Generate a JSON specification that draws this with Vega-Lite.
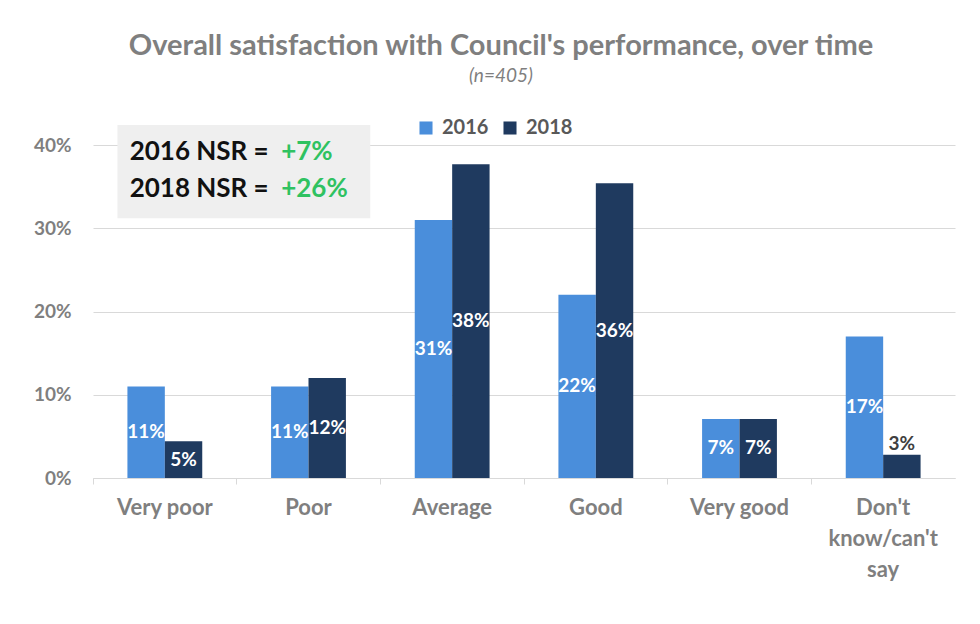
{
  "$schema": "https://vega.github.io/schema/vega-lite/v6.json",
  "width": 862,
  "height": 333,
  "autosize": {"type": "none"},
  "padding": {"left": 93, "top": 145, "right": 25, "bottom": 146},
  "background": "white",
  "title": {
    "text": "Overall satisfaction with Council's performance, over time",
    "subtitle": "(n=405)",
    "font": "Lato",
    "fontSize": 29,
    "fontWeight": "bold",
    "color": "#7f7f7f",
    "subtitleFont": "Lato",
    "subtitleFontSize": 19,
    "subtitleFontStyle": "italic",
    "subtitleColor": "#7f7f7f",
    "subtitlePadding": 6,
    "anchor": "middle",
    "dx": -23,
    "offset": 32
  },
  "config": {"view": {"stroke": null}, "font": "Lato"},
  "data": {
    "values": [
      {"category": "Very poor", "year": "2016", "value": 11.0, "label": "11%"},
      {"category": "Very poor", "year": "2018", "value": 4.4, "label": "5%"},
      {"category": "Poor", "year": "2016", "value": 11.0, "label": "11%"},
      {"category": "Poor", "year": "2018", "value": 12.0, "label": "12%"},
      {"category": "Average", "year": "2016", "value": 31.0, "label": "31%"},
      {"category": "Average", "year": "2018", "value": 37.7, "label": "38%"},
      {"category": "Good", "year": "2016", "value": 22.0, "label": "22%"},
      {"category": "Good", "year": "2018", "value": 35.4, "label": "36%"},
      {"category": "Very good", "year": "2016", "value": 7.1, "label": "7%"},
      {"category": "Very good", "year": "2018", "value": 7.1, "label": "7%"},
      {"category": "Don't know/can't say", "year": "2016", "value": 17.0, "label": "17%"},
      {"category": "Don't know/can't say", "year": "2018", "value": 2.8, "label": "3%"}
    ]
  },
  "layer": [
    {
      "mark": {"type": "bar"},
      "encoding": {
        "x": {
          "field": "category",
          "type": "nominal",
          "sort": ["Very poor", "Poor", "Average", "Good", "Very good", "Don't know/can't say"],
          "scale": {"paddingInner": 0, "paddingOuter": 0},
          "axis": {
            "title": null,
            "labelAngle": 0,
            "labelColor": "#7f7f7f",
            "labelFontSize": 22,
            "labelFontWeight": "bold",
            "labelPadding": 13,
            "labelLineHeight": 31,
            "bandPosition": 0,
            "domainColor": "#d9d9d9",
            "tickColor": "#d9d9d9",
            "tickSize": 6,
            "labelExpr": "indexof(datum.value, 'know') >= 0 ? [\"Don't\", \"know/can't\", \"say\"] : datum.value"
          }
        },
        "xOffset": {
          "field": "year",
          "type": "nominal",
          "scale": {"paddingOuter": 0.92, "paddingInner": 0}
        },
        "y": {
          "field": "value",
          "type": "quantitative",
          "scale": {"domain": [0, 40]},
          "axis": {
            "title": null,
            "values": [0, 10, 20, 30, 40],
            "labelExpr": "datum.value + '%'",
            "domain": false,
            "ticks": false,
            "grid": true,
            "gridColor": "#d9d9d9",
            "labelColor": "#7f7f7f",
            "labelFontSize": 19,
            "labelFontWeight": "bold",
            "labelPadding": 22
          }
        },
        "color": {
          "field": "year",
          "type": "nominal",
          "scale": {"domain": ["2016", "2018"], "range": ["#4a8edb", "#1f3a5f"]},
          "legend": {
            "title": null,
            "orient": "none",
            "legendX": 323,
            "legendY": -27,
            "direction": "horizontal",
            "symbolType": "square",
            "symbolSize": 170,
            "symbolStrokeWidth": 0,
            "labelFontSize": 20,
            "labelFontWeight": "bold",
            "labelColor": "#595959",
            "columnPadding": 11,
            "labelOffset": 6
          }
        }
      }
    },
    {
      "transform": [
        {"filter": "datum.value >= 4"},
        {"calculate": "datum.value / 2", "as": "mid"}
      ],
      "mark": {"type": "text", "color": "white", "fontWeight": "bold", "fontSize": 19, "baseline": "middle"},
      "encoding": {
        "x": {"field": "category", "type": "nominal", "sort": ["Very poor", "Poor", "Average", "Good", "Very good", "Don't know/can't say"]},
        "xOffset": {"field": "year", "type": "nominal"},
        "y": {"field": "mid", "type": "quantitative"},
        "text": {"field": "label"}
      }
    },
    {
      "transform": [{"filter": "datum.value < 4"}],
      "mark": {"type": "text", "color": "#404040", "fontWeight": "bold", "fontSize": 19, "baseline": "middle", "dy": -11},
      "encoding": {
        "x": {"field": "category", "type": "nominal", "sort": ["Very poor", "Poor", "Average", "Good", "Very good", "Don't know/can't say"]},
        "xOffset": {"field": "year", "type": "nominal"},
        "y": {"field": "value", "type": "quantitative"},
        "text": {"field": "label"}
      }
    },
    {
      "data": {"values": [{"note": "NSR"}]},
      "mark": {"type": "rect", "color": "#efefef"},
      "encoding": {
        "x": {"datum": "Very poor", "bandPosition": 0.17},
        "x2": {"datum": "Poor", "bandPosition": 0.93},
        "y": {"datum": 42.4},
        "y2": {"datum": 31.2}
      }
    },
    {
      "data": {"values": [{"line": "2016 NSR = ", "nsr": "+7%", "pos": 38.2}, {"line": "2018 NSR = ", "nsr": "+26%", "pos": 33.7}]},
      "mark": {"type": "text", "color": "#111111", "fontWeight": "bold", "fontSize": 26, "align": "left", "baseline": "alphabetic"},
      "encoding": {
        "x": {"datum": "Very poor", "bandPosition": 0.255},
        "y": {"field": "pos", "type": "quantitative"},
        "text": {"field": "line"}
      }
    },
    {
      "data": {"values": [{"line": "2016 NSR = ", "nsr": "+7%", "pos": 38.2}, {"line": "2018 NSR = ", "nsr": "+26%", "pos": 33.7}]},
      "mark": {"type": "text", "color": "#2fc261", "fontWeight": "bold", "fontSize": 26, "align": "left", "baseline": "alphabetic"},
      "encoding": {
        "x": {"datum": "Poor", "bandPosition": 0.31},
        "y": {"field": "pos", "type": "quantitative"},
        "text": {"field": "nsr"}
      }
    }
  ]
}
